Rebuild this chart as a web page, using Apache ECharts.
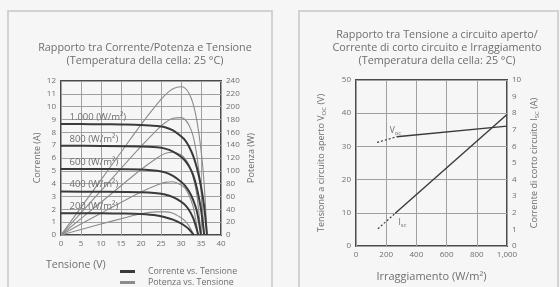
<!DOCTYPE html>
<html>
<head>
<meta charset="utf-8">
<script src="https://cdn.jsdelivr.net/npm/echarts@6/dist/echarts.min.js"></script>
<style>
html,body{margin:0;padding:0;background:#f6f6f6}
#main{width:560px;height:287px}
</style>
</head>
<body>
<div id="main"></div>
<script>
// irraggiamento delle curve (W/m2)
var irradiance = ['1.000', '800', '600', '400', '200'];

// corrente vs tensione [V, A]
var iv1000 = [[0,8.65],[5,8.64],[10,8.63],[15,8.61],[20,8.58],[24,8.5],[26,8.4],[28,8.15],[30,7.7],[31,7.4],[32,6.9],[33,6.2],[34,5.2],[35,3.8],[35.8,2.2],[36.5,0]];
var iv800 = [[0,6.95],[10,6.94],[20,6.9],[24,6.83],[26,6.73],[28,6.5],[30,6.1],[31,5.8],[32,5.35],[33,4.7],[34,3.6],[35,2.0],[35.8,0]];
var iv600 = [[0,5.15],[10,5.14],[20,5.1],[24,5.0],[26,4.88],[28,4.6],[30,4.15],[31,3.85],[32,3.4],[33,2.75],[34,1.8],[35,0]];
var iv400 = [[0,3.38],[10,3.37],[20,3.33],[24,3.25],[26,3.15],[28,2.95],[30,2.6],[31,2.35],[32,1.95],[33,1.35],[33.8,0.6],[34.3,0]];
var iv200 = [[0,1.7],[10,1.69],[16,1.67],[20,1.63],[24,1.52],[26,1.38],[28,1.2],[30,0.9],[31,0.7],[32,0.45],[33.2,0]];

// potenza vs tensione [V, W]
var pw1000 = [[0,0],[5,43],[10,86],[15,129],[20,172],[24,204],[26,218],[28,228],[30,231],[31,229],[32,221],[33,205],[34,177],[35,133],[35.8,79],[36.5,0]];
var pw800 = [[0,0],[10,69],[20,138],[24,164],[26,175],[28,182],[30,183],[31,180],[32,171],[33,155],[34,122],[35,70],[35.8,0]];
var pw600 = [[0,0],[10,51],[20,102],[24,120],[26,127],[28,129],[30,125],[31,119],[32,109],[33,91],[34,61],[35,0]];
var pw400 = [[0,0],[10,34],[20,67],[24,78],[26,82],[28,83],[30,78],[31,73],[32,62],[33,45],[33.8,20],[34.3,0]];
var pw200 = [[0,0],[10,17],[16,27],[20,33],[24,36],[26,36],[28,34],[30,27],[31,22],[32,14],[33.2,0]];

// tensione a circuito aperto vs irraggiamento [W/m2, V]
var vocDashed = [[140,31.2],[270,32.9]];
var vocSolid = [[270,32.9],[1000,36.1]];
// corrente di corto circuito vs irraggiamento [W/m2, A]
var iscDashed = [[145,1.04],[260,1.97]];
var iscSolid = [[260,1.97],[1000,7.92]];

var ivCurves = [iv1000, iv800, iv600, iv400, iv200];
var pwCurves = [pw1000, pw800, pw600, pw400, pw200];

var FONT = 'Open Sans';
var TXT = '#6e6e6e';
var GRIDC = '#a0a0a0';
var FRAME = '#4a4a4a';

var chart = echarts.init(document.getElementById('main'));

function axisLbl() {
    return {color: TXT, fontSize: 8, fontFamily: FONT, margin: 5};
}
var sub = {s: {fontSize: 6, color: TXT, fontFamily: FONT, padding: [5, 0, 0, 0]}};

var series = [];
pwCurves.forEach(function (d) {
    series.push({
        name: 'Potenza vs. Tensione',
        type: 'line', xAxisIndex: 0, yAxisIndex: 1,
        data: d, showSymbol: false, smooth: 0.3,
        lineStyle: {color: '#8c8c8c', width: 1.1},
        itemStyle: {color: '#8c8c8c'}
    });
});
ivCurves.forEach(function (d, i) {
    series.push({
        name: 'Corrente vs. Tensione',
        type: 'line', xAxisIndex: 0, yAxisIndex: 0,
        data: d, showSymbol: false, smooth: 0.3,
        lineStyle: {color: '#3a3a3a', width: 2},
        itemStyle: {color: '#3a3a3a'},
        markPoint: {
            symbol: 'circle', symbolSize: 1, silent: true,
            itemStyle: {color: 'transparent'},
            data: [{
                coord: d[0],
                label: {
                    show: true, position: 'right', offset: [3, -7],
                    formatter: irradiance[i] + ' (W/m²)',
                    color: TXT, fontSize: 9.5, fontFamily: FONT
                }
            }]
        }
    });
});

// grafico di destra
var rightLine = {color: '#3a3a3a', width: 1.4};
function tag(p, txt, off) {
    return {
        symbol: 'circle', symbolSize: 1, silent: true,
        itemStyle: {color: 'transparent'},
        data: [{coord: p, label: {show: true, position: 'right', offset: off,
            formatter: txt, color: TXT, fontSize: 8.5, fontFamily: FONT, rich: sub}}]
    };
}
series.push({
    type: 'line', xAxisIndex: 1, yAxisIndex: 2, showSymbol: false, data: vocDashed,
    lineStyle: {color: '#3a3a3a', width: 1.2, type: [2, 2]},
    markPoint: tag(vocDashed[0], 'V{s|oc}', [7, -12])
});
series.push({type: 'line', xAxisIndex: 1, yAxisIndex: 2, showSymbol: false, data: vocSolid, lineStyle: rightLine});
series.push({
    type: 'line', xAxisIndex: 1, yAxisIndex: 3, showSymbol: false, data: iscDashed,
    lineStyle: {color: '#3a3a3a', width: 1.2, type: [2, 2]},
    markPoint: tag(iscDashed[0], 'I{s|sc}', [15, -6])
});
series.push({type: 'line', xAxisIndex: 1, yAxisIndex: 3, showSymbol: false, data: iscSolid, lineStyle: rightLine});

var legendText = {color: TXT, fontSize: 8.8, fontFamily: FONT, padding: [0, 0, 0, 8]};

chart.setOption({
    backgroundColor: '#f6f6f6',
    animation: false,
    title: [
        {
            text: 'Rapporto tra Corrente/Potenza e Tensione\n(Temperatura della cella: 25 °C)',
            left: 140, top: 36, textAlign: 'center',
            textStyle: {color: TXT, fontSize: 10.8, fontWeight: 'normal', fontFamily: FONT, lineHeight: 13}
        },
        {
            text: 'Rapporto tra Tensione a circuito aperto/\nCorrente di corto circuito e Irraggiamento\n(Temperatura della cella: 25 °C)',
            left: 432, top: 23, textAlign: 'center',
            textStyle: {color: TXT, fontSize: 10.8, fontWeight: 'normal', fontFamily: FONT, lineHeight: 13}
        }
    ],
    legend: [
        {
            data: ['Corrente vs. Tensione'], left: 115, top: 262,
            itemWidth: 15, itemHeight: 3, icon: 'rect', textStyle: legendText
        },
        {
            data: ['Potenza vs. Tensione'], left: 115, top: 273,
            itemWidth: 15, itemHeight: 3, icon: 'rect', textStyle: legendText
        }
    ],
    grid: [
        {left: 61, top: 81, width: 160, height: 154, show: true, borderColor: FRAME, borderWidth: 2, backgroundColor: 'transparent'},
        {left: 356, top: 80, width: 151, height: 168, show: true, borderColor: FRAME, borderWidth: 2, backgroundColor: 'transparent'}
    ],
    xAxis: [
        {
            type: 'value', gridIndex: 0, min: 0, max: 40, interval: 5,
            axisLine: {show: false}, axisTick: {show: false},
            splitLine: {lineStyle: {color: GRIDC, width: 1}},
            axisLabel: axisLbl()
        },
        {
            type: 'value', gridIndex: 1, min: 0, max: 1000, interval: 200,
            axisLine: {show: false}, axisTick: {show: false},
            splitLine: {lineStyle: {color: GRIDC, width: 1}},
            axisLabel: axisLbl(),
            name: 'Irraggiamento (W/m²)', nameLocation: 'middle', nameGap: 25,
            nameTextStyle: {color: TXT, fontSize: 11, fontFamily: FONT}
        }
    ],
    yAxis: [
        {
            type: 'value', gridIndex: 0, min: 0, max: 12, interval: 1, position: 'left',
            axisLine: {show: false}, axisTick: {show: false},
            splitLine: {lineStyle: {color: GRIDC, width: 1}},
            axisLabel: axisLbl(),
            name: 'Corrente (A)', nameLocation: 'middle', nameGap: 19,
            nameTextStyle: {color: TXT, fontSize: 9, fontFamily: FONT}
        },
        {
            type: 'value', gridIndex: 0, min: 0, max: 240, interval: 20, position: 'right',
            axisLine: {show: false}, axisTick: {show: false}, splitLine: {show: false},
            axisLabel: axisLbl(),
            name: 'Potenza (W)', nameLocation: 'middle', nameGap: 26, nameRotate: 90,
            nameTextStyle: {color: TXT, fontSize: 9, fontFamily: FONT}
        },
        {
            type: 'value', gridIndex: 1, min: 0, max: 50, interval: 10, position: 'left',
            axisLine: {show: false}, axisTick: {show: false},
            splitLine: {lineStyle: {color: GRIDC, width: 1}},
            axisLabel: axisLbl(),
            name: 'Tensione a circuito aperto V{s|OC} (V)', nameLocation: 'middle', nameGap: 29,
            nameTextStyle: {color: TXT, fontSize: 9, fontFamily: FONT, rich: sub}
        },
        {
            type: 'value', gridIndex: 1, min: 0, max: 10, interval: 1, position: 'right',
            axisLine: {show: false}, axisTick: {show: false}, splitLine: {show: false},
            axisLabel: axisLbl(),
            name: 'Corrente di corto circuito I{s|SC} (A)', nameLocation: 'middle', nameGap: 22, nameRotate: 90,
            nameTextStyle: {color: TXT, fontSize: 9, fontFamily: FONT, rich: sub}
        }
    ],
    graphic: [
        {type: 'rect', shape: {x: 8, y: 11, width: 264, height: 290}, style: {fill: 'none', stroke: '#d2d2d2', lineWidth: 2}, silent: true},
        {type: 'rect', shape: {x: 299, y: 11, width: 259, height: 290}, style: {fill: 'none', stroke: '#d2d2d2', lineWidth: 2}, silent: true},
        {type: 'text', left: 46, top: 260, style: {text: 'Tensione (V)', fill: TXT, fontSize: 10.5, fontFamily: FONT}}
    ],
    series: series
});

window.addEventListener('resize', function () {
    chart.resize();
});
</script>
</body>
</html>
